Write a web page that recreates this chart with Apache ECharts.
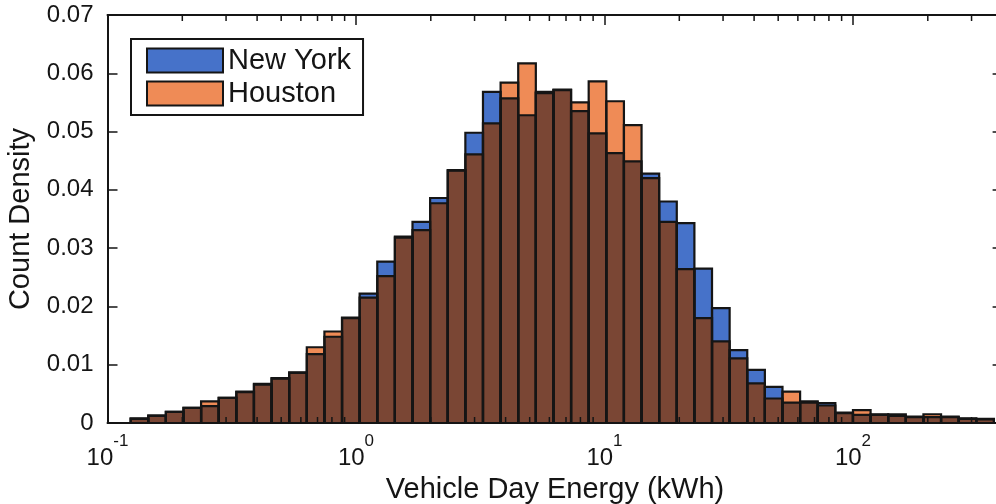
<!DOCTYPE html>
<html>
<head>
<meta charset="utf-8">
<script src="https://cdn.jsdelivr.net/npm/echarts@6/dist/echarts.min.js"></script>
<style>
  html, body { margin: 0; padding: 0; background: #fff; }
  #chart { width: 996px; height: 504px; }
</style>
</head>
<body>
<div id="chart"></div>
<script>
// Histogram of vehicle-day energy on a log10 x scale.
// Bins are equal-width in log10(kWh): first lower edge and bin width.
const binStartLog = -0.907;
const binWidthLog = 0.0709;

// Count density per bin, New York
const newYork = [
  0.0008, 0.0013, 0.0019, 0.0026, 0.0029, 0.0043, 0.0054, 0.0067, 0.0077, 0.0087,
  0.0118, 0.0148, 0.0181, 0.0222, 0.0277, 0.0320, 0.0345, 0.0386, 0.0434, 0.0498,
  0.0568, 0.0557, 0.0528, 0.0568, 0.0572, 0.0535, 0.0497, 0.0463, 0.0449, 0.0428,
  0.0380, 0.0343, 0.0265, 0.0197, 0.0125, 0.0091, 0.0062, 0.0035, 0.0037, 0.0034,
  0.0018, 0.0014, 0.0015, 0.0012, 0.0010, 0.0010, 0.0010, 0.0008, 0.0007
];

// Count density per bin, Houston
const houston = [
  0.0007, 0.0012, 0.0019, 0.0026, 0.0037, 0.0043, 0.0053, 0.0066, 0.0076, 0.0086,
  0.0130, 0.0157, 0.0180, 0.0215, 0.0252, 0.0318, 0.0331, 0.0377, 0.0433, 0.0461,
  0.0514, 0.0584, 0.0617, 0.0566, 0.0571, 0.0550, 0.0586, 0.0552, 0.0511, 0.0420,
  0.0345, 0.0264, 0.0180, 0.0140, 0.0111, 0.0068, 0.0042, 0.0054, 0.0035, 0.0030,
  0.0017, 0.0022, 0.0014, 0.0015, 0.0011, 0.0015, 0.0011, 0.0007, 0.0006
];

const seriesNames = ['New York', 'Houston'];
const xMinKWh = 0.1;
const xMaxKWh = 400;
const yTickStep = 0.01;
const yMax = 0.07;
const decadeExponents = [-1, 0, 1, 2];

const FONT = '"Liberation Sans", Arial, Helvetica, sans-serif';
const INK = '#151515';
const BLUE = '#4672c9';
const ORANGE = '#ef8b56';
const BROWN = '#7a4634';

const lg = Math.log10;

// Bin rows: [lowerLog, upperLog, value]
function binRows(values) {
  return values.map((v, i) => [binStartLog + i * binWidthLog, binStartLog + (i + 1) * binWidthLog, v]);
}
const nyRows = binRows(newYork);
const hoRows = binRows(houston);
const overlapRows = newYork.map((v, i) => [nyRows[i][0], nyRows[i][1], Math.min(v, houston[i])]);
const outlineRows = newYork.map((v, i) => [nyRows[i][0], nyRows[i][1], v, houston[i]]);

// Minor log ticks (2..9 per decade) inside the axis range
const minorTicks = [];
for (const e of decadeExponents) {
  for (let m = 2; m <= 9; m++) {
    const v = m * Math.pow(10, e);
    if (v < xMaxKWh) minorTicks.push([lg(v)]);
  }
}

function barFill(color) {
  return function (params, api) {
    const lo = api.value(0), hi = api.value(1), v = api.value(2);
    const p0 = api.coord([lo, 0]);
    const p1 = api.coord([hi, v]);
    return {
      type: 'rect',
      shape: { x: p0[0], y: p1[1], width: p1[0] - p0[0], height: p0[1] - p1[1] },
      style: { fill: color }
    };
  };
}

function barOutline(params, api) {
  const lo = api.value(0), hi = api.value(1);
  const children = [2, 3].map(dim => {
    const p0 = api.coord([lo, 0]);
    const p1 = api.coord([hi, api.value(dim)]);
    return {
      type: 'rect',
      shape: { x: p0[0], y: p1[1], width: p1[0] - p0[0], height: p0[1] - p1[1] },
      style: { fill: null, stroke: INK, lineWidth: 2.2 }
    };
  });
  return { type: 'group', children };
}

function minorTickItem(params, api) {
  const x = api.value(0);
  const b = api.coord([x, 0]);
  const t = api.coord([x, yMax]);
  return {
    type: 'group',
    children: [
      { type: 'line', shape: { x1: b[0], y1: b[1], x2: b[0], y2: b[1] - 6 }, style: { stroke: INK, lineWidth: 1.5 } },
      { type: 'line', shape: { x1: t[0], y1: t[1], x2: t[0], y2: t[1] + 6 }, style: { stroke: INK, lineWidth: 1.5 } }
    ]
  };
}

const xBase = {
  type: 'value',
  min: lg(xMinKWh),
  max: lg(xMaxKWh),
  interval: 1,
  splitLine: { show: false },
  axisLine: { show: true, onZero: false, lineStyle: { color: INK, width: 2 } },
  axisTick: { show: true, inside: true, length: 10, lineStyle: { color: INK, width: 1.5 } }
};

const yBase = {
  type: 'value',
  min: 0,
  max: yMax,
  interval: yTickStep,
  splitLine: { show: false },
  axisLine: { show: true, onZero: false, lineStyle: { color: INK, width: 2 } },
  axisTick: { show: true, inside: true, length: 10, lineStyle: { color: INK, width: 1.5 } }
};

const chart = echarts.init(document.getElementById('chart'), null, { renderer: 'canvas' });
chart.setOption({
  animation: false,
  backgroundColor: '#ffffff',
  grid: { left: 107.5, right: -6.6, top: 15, bottom: 81, containLabel: false, outerBoundsMode: 'none' },
  legend: {
    data: seriesNames,
    orient: 'vertical',
    left: 131,
    top: 39,
    icon: 'rect',
    itemWidth: 76,
    itemHeight: 24,
    itemGap: 4,
    padding: [7, 12, 7, 15],
    borderColor: INK,
    borderWidth: 2,
    backgroundColor: '#ffffff',
    itemStyle: { borderColor: INK, borderWidth: 2 },
    textStyle: { fontFamily: FONT, fontSize: 29, lineHeight: 24, color: INK }
  },
  xAxis: [
    Object.assign({}, xBase, {
      position: 'bottom',
      name: 'Vehicle Day Energy (kWh)',
      nameLocation: 'middle',
      nameGap: 52,
      nameTextStyle: { fontFamily: FONT, fontSize: 29, color: INK },
      axisLabel: {
        show: true,
        margin: 21,
        formatter: v => (Math.abs(v - Math.round(v)) < 1e-9 ? '{b|10}{s|' + Math.round(v) + '}' : ''),
        rich: {
          b: { fontFamily: FONT, fontSize: 24, color: INK, lineHeight: 26, verticalAlign: 'bottom' },
          s: { fontFamily: FONT, fontSize: 17, color: INK, lineHeight: 17, padding: [0, 0, 20, 0], verticalAlign: 'bottom' }
        }
      }
    }),
    Object.assign({}, xBase, { position: 'top', axisLabel: { show: false } })
  ],
  yAxis: [
    Object.assign({}, yBase, {
      position: 'left',
      name: 'Count Density',
      nameLocation: 'middle',
      nameGap: 70,
      nameTextStyle: { fontFamily: FONT, fontSize: 29, color: INK },
      axisLabel: {
        margin: 14,
        fontFamily: FONT,
        fontSize: 24,
        color: INK,
        formatter: v => (v === 0 ? '0' : v.toFixed(2))
      }
    }),
    Object.assign({}, yBase, { position: 'right', axisLabel: { show: false } })
  ],
  series: [
    {
      name: seriesNames[0], type: 'custom', xAxisIndex: 0, yAxisIndex: 0,
      itemStyle: { color: BLUE }, renderItem: barFill(BLUE),
      encode: { x: [0, 1], y: 2 }, data: nyRows, z: 2
    },
    {
      name: seriesNames[1], type: 'custom', xAxisIndex: 0, yAxisIndex: 0,
      itemStyle: { color: ORANGE }, renderItem: barFill(ORANGE),
      encode: { x: [0, 1], y: 2 }, data: hoRows, z: 2
    },
    {
      name: 'overlap', type: 'custom', xAxisIndex: 0, yAxisIndex: 0,
      renderItem: barFill(BROWN), silent: true,
      encode: { x: [0, 1], y: 2 }, data: overlapRows, z: 2
    },
    {
      name: 'outline', type: 'custom', xAxisIndex: 0, yAxisIndex: 0,
      renderItem: barOutline, silent: true,
      encode: { x: [0, 1], y: [2, 3] }, data: outlineRows, z: 3
    },
    {
      name: 'minor ticks', type: 'custom', xAxisIndex: 0, yAxisIndex: 0,
      renderItem: minorTickItem, silent: true,
      encode: { x: 0 }, data: minorTicks, z: 4, clip: false
    }
  ]
});
</script>
</body>
</html>
